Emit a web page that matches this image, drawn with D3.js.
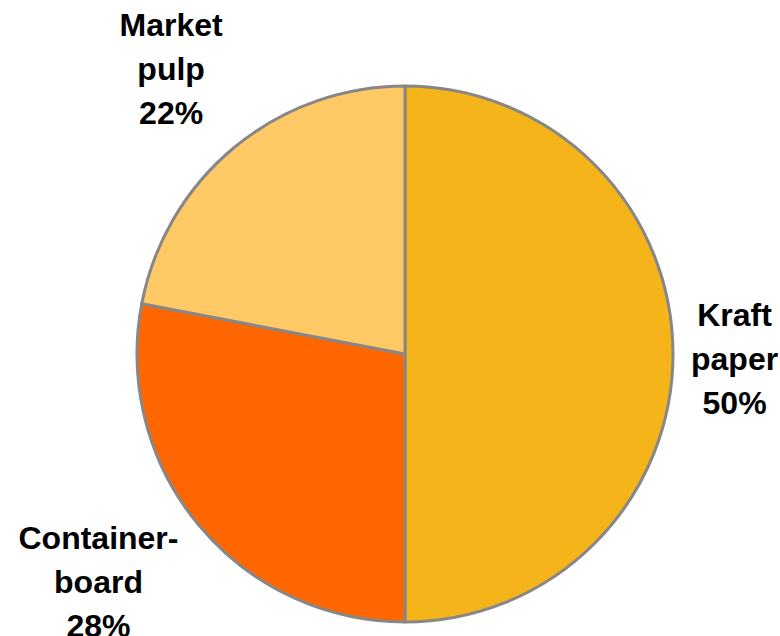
<!DOCTYPE html>
<html>
<head>
<meta charset="utf-8">
<script src="https://cdn.jsdelivr.net/npm/d3@7"></script>
<style>
  html, body { margin: 0; padding: 0; background: #fff; }
  svg { display: block; }
</style>
</head>
<body>
<svg id="chart" width="780" height="636"></svg>
<script>
// Share of production by grade (%)
const categories = ["Kraft paper", "Containerboard", "Market pulp"];
const values = [50, 28, 22];
// Label text, one entry per line
const labelLines = [
  ["Kraft", "paper"],
  ["Container-", "board"],
  ["Market", "pulp"]
];
const colors = ["#F5B41A", "#FF6600", "#FFC966"];

const width = 780, height = 636;
const cx = 405, cy = 354, radius = 268;
const fontSize = 32, lineH = 44, capH = 23;

const svg = d3.select("#chart");
const g = svg.append("g").attr("transform", `translate(${cx},${cy})`);

const data = categories.map((c, i) => ({ name: c, value: values[i], lines: labelLines[i], color: colors[i] }));

const pie = d3.pie().value(d => d.value).sort(null);
const arc = d3.arc().innerRadius(0).outerRadius(radius);
const arcs = pie(data);

g.selectAll("path.slice")
  .data(arcs)
  .join("path")
  .attr("class", "slice")
  .attr("d", arc)
  .attr("fill", d => d.data.color)
  .attr("stroke", "#878787")
  .attr("stroke-width", 3)
  .attr("stroke-linejoin", "round");

// Labels sit outside the circle: the box corner facing the centre
// is placed just beyond the rim, along the slice's mid-angle
const gap = 18;
const lift = 10;   // labels above/below the pie are raised a little
const labels = g.selectAll("text.label")
  .data(arcs)
  .join("text")
  .attr("class", "label")
  .attr("text-anchor", "middle")
  .attr("font-family", "'Liberation Sans', Arial, sans-serif")
  .attr("font-weight", "bold")
  .attr("font-size", fontSize)
  .attr("fill", "#000");

labels.each(function (d) {
  const t = d3.select(this);
  const lines = d.data.lines.concat([d3.format(".0f")(d.data.value) + "%"]);
  const n = lines.length;
  const blockH = lineH * (n - 1) + capH;
  lines.forEach((ln, i) => {
    t.append("tspan").attr("x", 0).attr("y", -blockH / 2 + capH + i * lineH).text(ln);
  });
  let w = 0;
  t.selectAll("tspan").each(function () { w = Math.max(w, this.getComputedTextLength()); });
  const hw = w / 2, hh = blockH / 2;
  const a = (d.startAngle + d.endAngle) / 2;
  const dx = Math.sin(a), dy = -Math.cos(a);
  const sx = Math.abs(dx) > 0.1 ? Math.sign(dx) : 0;
  const sy = Math.abs(dy) > 0.1 ? Math.sign(dy) : 0;
  const px = dx * (radius + gap + (sy > 0 ? 8 : 0)) + sx * hw;
  const py = dy * (radius + gap) + sy * hh - (sy !== 0 ? lift : -4);
  t.attr("transform", `translate(${px},${py})`);
});
</script>
</body>
</html>
